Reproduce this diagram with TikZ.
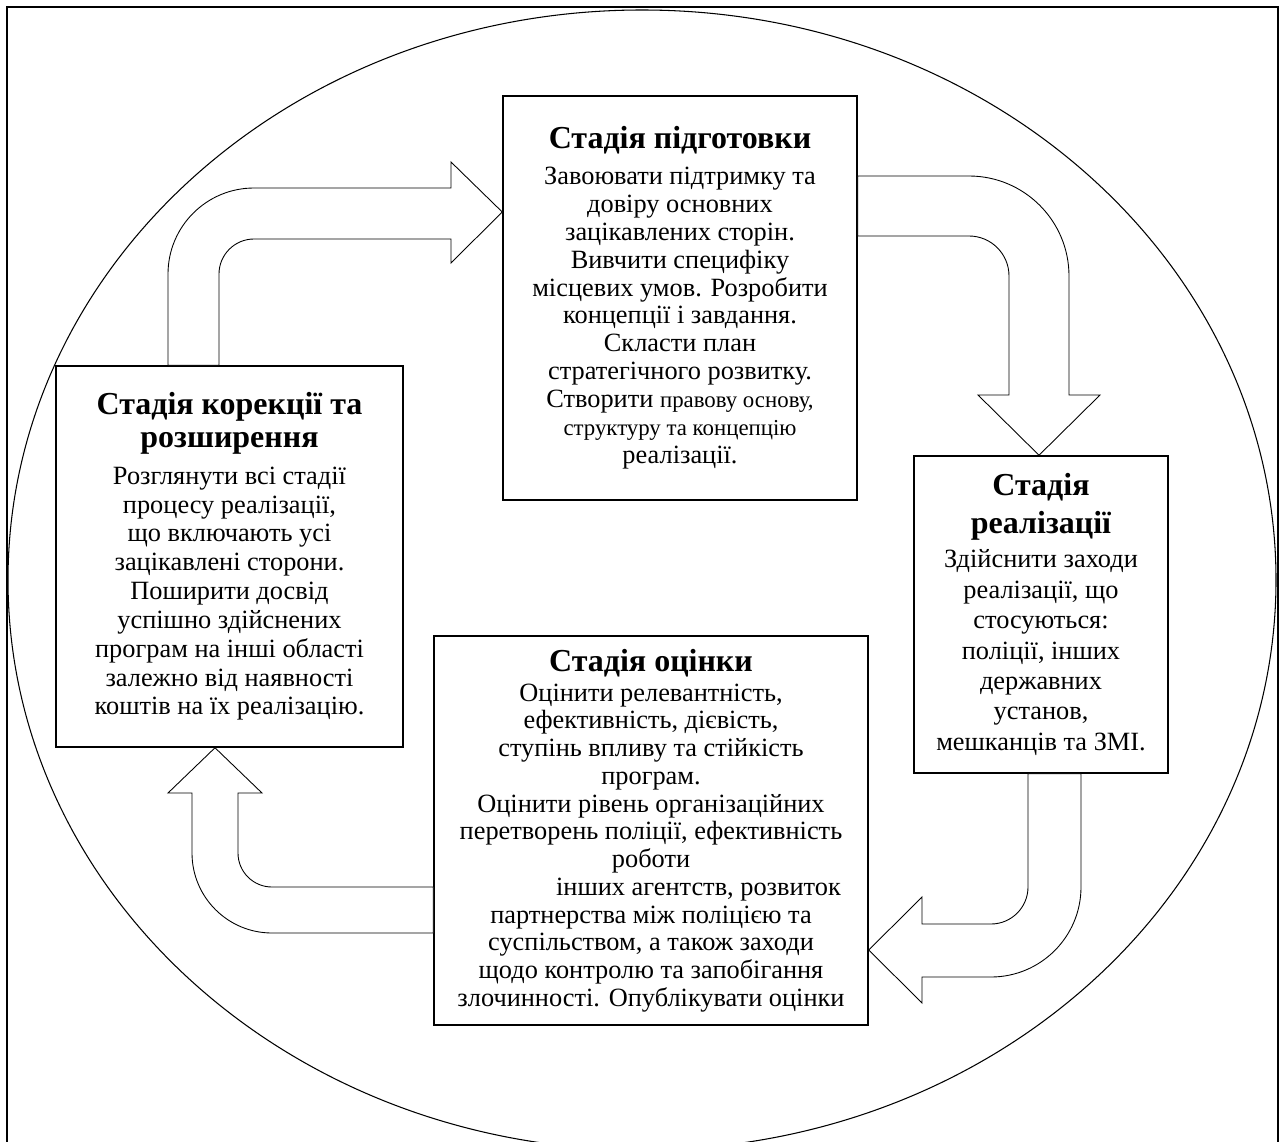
\documentclass[tikz,border=0pt]{standalone}
\usepackage{fontspec}
\setmainfont{Liberation Serif}
\newcommand\stagetitle[1]{{\fontsize{18.2}{19}\selectfont\bfseries #1}}
\begin{document}
\begin{tikzpicture}[x=0.02cm,y=-0.02cm,
    stage/.style = {rectangle,draw,line width=0.9pt,inner sep=0pt,align=center,font=\fontsize{15}{15.9}\selectfont},
    blockarrow/.style = {draw,fill=white,line width=0.5pt,line join=miter}]
\useasboundingbox (0,0) rectangle (1284,1142);
\draw[line width=1pt] (7,1142) -- (7,7) -- (1278,7) -- (1278,1142);
\draw[line width=0.6pt] (642,580) ellipse [x radius=634, y radius=570];

\node[stage,minimum width=7.08cm,minimum height=8.08cm] (prep) at (680,298) {\stagetitle{Стадія підготовки}\\[4.2pt]
    Завоювати підтримку та\\ довіру основних\\ зацікавлених сторін.\\ Вивчити специфіку\\
    місцевих умов. Розробити\\ концепції і завдання.\\ Скласти план\\ стратегічного розвитку.\\
    Створити {\fontsize{13}{15}\selectfont правову основу,}\\ {\fontsize{13}{15}\selectfont структуру та концепцію}\\ реалізації.};
\node[stage,minimum width=6.94cm,minimum height=7.62cm,font=\fontsize{15}{16.4}\selectfont] (corr) at (229.5,556.5) {\stagetitle{Стадія корекції та}\\[2.4pt] \stagetitle{розширення}\\[4.4pt]
    Розглянути всі стадії\\ процесу реалізації,\\ що включають усі\\ зацікавлені сторони.\\
    Поширити досвід\\ успішно здійснених\\ програм на інші області\\ залежно від наявності\\ коштів на їх реалізацію.};
\node[stage,minimum width=5.08cm,minimum height=6.34cm,font=\fontsize{15}{17.3}\selectfont] (real) at (1041,614.5) {\stagetitle{Стадія}\\[4.3pt] \stagetitle{реалізації}\\[2.1pt]
    Здійснити заходи\\ реалізації, що\\ стосуються:\\ поліції, інших\\ державних\\ установ,\\ мешканців та ЗМІ.};
\node[stage,minimum width=8.68cm,minimum height=7.78cm,font=\fontsize{15}{15.8}\selectfont] (eval) at (651,830.5) {\stagetitle{Стадія оцінки}\\[1.2pt]
    Оцінити релевантність,\\ ефективність, дієвість,\\ ступінь впливу та стійкість\\ програм.\\
    Оцінити рівень організаційних\\ перетворень поліції, ефективність\\ роботи\\ \hspace*{1.9cm}інших агентств, розвиток\\
    партнерства між поліцією та\\ суспільством, а також заходи\\ щодо контролю та запобігання\\ злочинності. Опублікувати оцінки};

\draw[blockarrow] (corr.north -| 168,0) -- (168,274)
    .. controls (168,226.5) and (206.5,188) .. (254,188) -- (451,188) -- (451,162)
    -- (prep.west |- 0,212) -- (451,263) -- (451,239) -- (254,239)
    .. controls (234.7,239) and (219,254.7) .. (219,274) -- (corr.north -| 219,0) -- cycle;
\draw[blockarrow] (prep.east |- 0,176) -- (969,176)
    .. controls (1024.2,176) and (1069,220.8) .. (1069,276) -- (1069,395) -- (1100,395)
    -- (1039,0 |- real.north) -- (978,395) -- (1009,395) -- (1009,276)
    .. controls (1009,253.9) and (991.1,236) .. (969,236) -- (prep.east |- 0,236) -- cycle;
\draw[blockarrow] (1028,0 |- real.south) -- (1028,887)
    .. controls (1028,907.4) and (1011.4,924) .. (991,924) -- (922,924) -- (922,897)
    -- (eval.east |- 0,950) -- (922,1003) -- (922,977) -- (991,977)
    .. controls (1040.7,977) and (1081,936.7) .. (1081,887) -- (1081,0 |- real.south) -- cycle;
\draw[blockarrow] (eval.west |- 0,887) -- (272,887)
    .. controls (253.2,887) and (238,871.8) .. (238,853) -- (238,793) -- (262,793)
    -- (215,0 |- corr.south) -- (168,793) -- (192,793) -- (192,853)
    .. controls (192,897.2) and (227.8,933) .. (272,933) -- (eval.west |- 0,933) -- cycle;
\end{tikzpicture}
\end{document}
